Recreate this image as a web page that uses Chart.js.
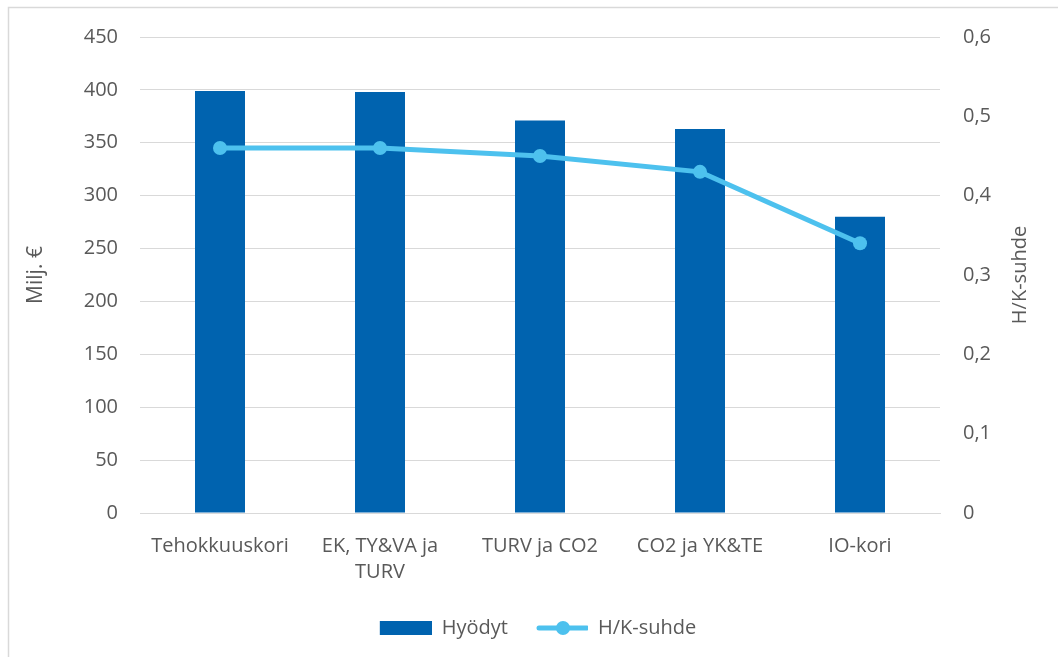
<!DOCTYPE html>
<html lang="fi">
<head>
<meta charset="utf-8">
<title>Hyödyt ja H/K-suhde</title>
<script src="https://cdn.jsdelivr.net/npm/chart.js@4"></script>
<style>
  html, body { margin: 0; padding: 0; background: #ffffff; }
  #wrap { width: 1058px; height: 657px; position: relative; }
</style>
</head>
<body>
<div id="wrap"><canvas id="chart" width="1058" height="657"></canvas></div>
<script>
// Toimenpidekorit
const categories = ['Tehokkuuskori', ['EK, TY&VA ja', 'TURV'], 'TURV ja CO2', 'CO2 ja YK&TE', 'IO-kori'];
// Hyödyt, milj. €
const benefits = [399, 398, 371, 363, 280];
// Hyöty-kustannussuhde
const bcRatio = [0.46, 0.46, 0.45, 0.43, 0.34];

const leftTicks = [0, 50, 100, 150, 200, 250, 300, 350, 400, 450];
const rightTicks = [0, 0.1, 0.2, 0.3, 0.4, 0.5, 0.6];

const BAR_COLOR = '#0063AF';
const LINE_COLOR = '#4DC1EE';
const TEXT_COLOR = '#595959';
const GRID_COLOR = '#D9D9D9';
const FONT = '"Open Sans", "DejaVu Sans", sans-serif';

// Legend symbols: a filled block for the bars, a short line with a dot for the ratio
function legendSymbol(kind) {
  const c = document.createElement('canvas');
  c.width = 70; c.height = 16;
  const g = c.getContext('2d');
  if (kind === 'bar') {
    g.fillStyle = BAR_COLOR;
    g.fillRect(18, 1, 52, 14);
  } else {
    g.strokeStyle = LINE_COLOR;
    g.lineWidth = 5;
    g.lineCap = 'round';
    g.beginPath(); g.moveTo(21, 8); g.lineTo(69, 8); g.stroke();
    g.fillStyle = LINE_COLOR;
    g.beginPath(); g.arc(45, 8, 7, 0, Math.PI * 2); g.fill();
  }
  return c;
}
const symbols = { bar: legendSymbol('bar'), line: legendSymbol('line') };

// Outer frame of the chart object
const framePlugin = {
  id: 'frame',
  beforeDraw(chart) {
    const ctx = chart.ctx;
    ctx.save();
    ctx.fillStyle = '#ffffff';
    ctx.fillRect(0, 0, chart.width, chart.height);
    ctx.strokeStyle = GRID_COLOR;
    ctx.lineWidth = 1.5;
    ctx.strokeRect(8.5, 7.5, chart.width + 20, chart.height + 20);
    ctx.restore();
  }
};

// Right-hand axis title, reading bottom-to-top
const rightTitlePlugin = {
  id: 'rightTitle',
  afterDraw(chart) {
    const s = chart.scales.y2;
    const ctx = chart.ctx;
    ctx.save();
    ctx.translate(1020, (s.top + s.bottom) / 2);
    ctx.rotate(-Math.PI / 2);
    ctx.font = '20px ' + FONT;
    ctx.fillStyle = TEXT_COLOR;
    ctx.textAlign = 'center';
    ctx.textBaseline = 'middle';
    ctx.fillText('H/K-suhde', 0, 0);
    ctx.restore();
  }
};

new Chart(document.getElementById('chart'), {
  data: {
    labels: categories,
    datasets: [
      {
        type: 'bar',
        label: 'Hyödyt',
        data: benefits,
        backgroundColor: BAR_COLOR,
        borderWidth: 0,
        categoryPercentage: 1,
        barPercentage: 0.3125,
        yAxisID: 'y',
        order: 2
      },
      {
        type: 'line',
        label: 'H/K-suhde',
        data: bcRatio,
        borderColor: LINE_COLOR,
        backgroundColor: LINE_COLOR,
        borderWidth: 5,
        pointRadius: 7,
        pointHoverRadius: 7,
        pointBackgroundColor: LINE_COLOR,
        pointBorderWidth: 0,
        tension: 0,
        fill: false,
        yAxisID: 'y2',
        order: 1
      }
    ]
  },
  options: {
    responsive: false,
    animation: false,
    layout: { padding: { top: 37, left: 0, right: 0, bottom: 9 } },
    plugins: {
      tooltip: { enabled: false },
      legend: {
        position: 'bottom',
        labels: {
          usePointStyle: true,
          pointStyleWidth: 70,
          boxHeight: 16,
          padding: 10,
          color: TEXT_COLOR,
          font: { family: FONT, size: 20 },
          generateLabels() {
            return [
              { text: 'Hyödyt', pointStyle: symbols.bar, fillStyle: BAR_COLOR, strokeStyle: BAR_COLOR, lineWidth: 0, datasetIndex: 0, fontColor: TEXT_COLOR },
              { text: 'H/K-suhde', pointStyle: symbols.line, fillStyle: LINE_COLOR, strokeStyle: LINE_COLOR, lineWidth: 0, datasetIndex: 1, fontColor: TEXT_COLOR }
            ];
          }
        }
      }
    },
    scales: {
      x: {
        grid: { display: false, drawTicks: false, tickLength: 0 },
        border: { display: true, color: GRID_COLOR, width: 1 },
        ticks: {
          color: TEXT_COLOR,
          padding: 20,
          maxRotation: 0,
          autoSkip: false,
          font: { family: FONT, size: 20, lineHeight: 1.3 }
        },
        afterFit(scale) { scale.height = 95; }
      },
      y: {
        position: 'left',
        min: 0,
        max: 450,
        afterBuildTicks(scale) { scale.ticks = leftTicks.map(v => ({ value: v })); },
        grid: { color: GRID_COLOR, lineWidth: 1, drawTicks: false, tickLength: 0 },
        border: { display: false },
        ticks: {
          color: TEXT_COLOR,
          padding: 22,
          font: { family: FONT, size: 20 },
          callback: v => String(v)
        },
        title: {
          display: true,
          text: 'Milj. €',
          color: TEXT_COLOR,
          font: { family: FONT, size: 21 },
          padding: { top: 23, bottom: 0 }
        },
        afterFit(scale) { scale.width = 140; }
      },
      y2: {
        position: 'right',
        min: 0,
        max: 0.6,
        afterBuildTicks(scale) { scale.ticks = rightTicks.map(v => ({ value: v })); },
        grid: { display: false, drawTicks: false, tickLength: 0 },
        border: { display: false },
        ticks: {
          color: TEXT_COLOR,
          padding: 23,
          font: { family: FONT, size: 20 },
          callback: v => (Math.round(v * 10) / 10).toString().replace('.', ',')
        },
        afterFit(scale) { scale.width = 118; }
      }
    }
  },
  plugins: [framePlugin, rightTitlePlugin]
});
</script>
</body>
</html>
